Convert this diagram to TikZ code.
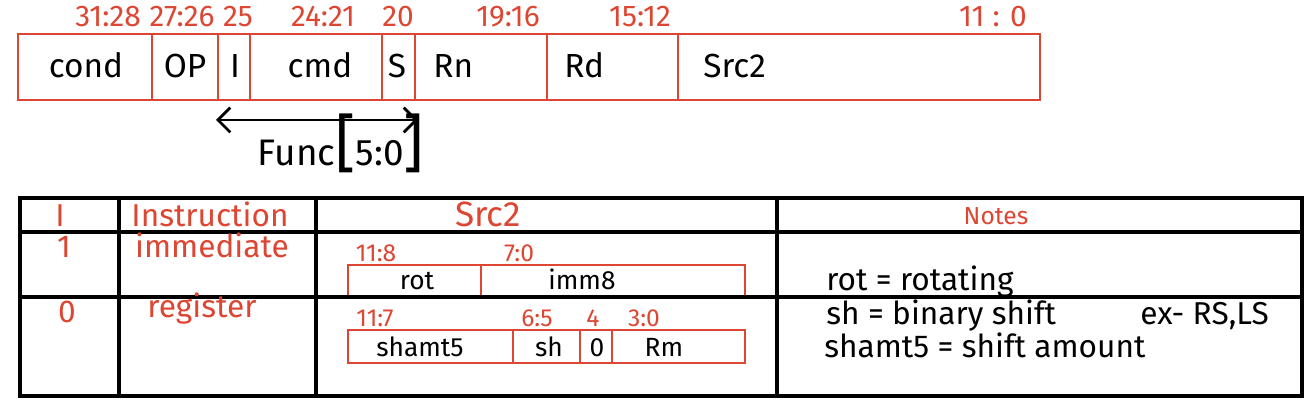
\documentclass[tikz,border=0pt]{standalone}
\usepackage{fontspec}
\setmainfont{Fira Sans}
\usetikzlibrary{arrows.meta}
\definecolor{pen}{RGB}{220,70,50}

\tikzset{
  regline/.style={draw=pen, line width=1.6pt},
  gridline/.style={draw=black, line width=1.8pt},
  bits/.style={text=pen, anchor=base, inner sep=0pt, font=\fontsize{17}{19}\selectfont},
  smallbits/.style={text=pen, anchor=base, inner sep=0pt, font=\fontsize{14}{16}\selectfont},
  field/.style={anchor=base, inner sep=0pt, font=\fontsize{19}{22}\selectfont},
  subfield/.style={anchor=base, inner sep=0pt, font=\fontsize{15}{17}\selectfont},
  head/.style={text=pen, anchor=base, inner sep=0pt, font=\fontsize{18}{20}\selectfont},
  note/.style={anchor=base west, inner sep=0pt, font=\fontsize{18}{20}\selectfont}
}

\begin{document}
\begin{tikzpicture}[x=0.02cm,y=-0.02cm]
\useasboundingbox (0,0) rectangle (1314,404);

% Instruction word
\draw[regline] (18,34) rectangle (1040,100);
\foreach \x in {152,218,250,382,415,547,678}
  \draw[regline] (\x,34) -- (\x,100);

% Bit ranges
\foreach \x/\t/\n in {108/31:28/bcond, 182/27:26/bop, 238/25/bi, 323/24:21/bcmd,
    398/20/bs, 508/19:16/brn, 640/15:12/brd, 993/11 : 0/bsrc}
  \node[bits] (\n) at (\x,27) {\t};

% Fields
\node[field] (cond) at (86,78) {cond};
\node[field] (op) at (185,78) {OP};
\node[field] (ibit) at (235,78) {I};
\node[field] (cmd) at (320,78) {cmd};
\node[field] (sbit) at (397,78) {S};
\node[field, anchor=base west] (rn) at (433,78) {Rn};
\node[field, anchor=base west] (rd) at (564,78) {Rd};
\node[field, anchor=base west] (src) at (703,78) {Src2};

% Funct span
\coordinate (funcl) at (216,120);
\coordinate (funcr) at (418,120);
\draw[{Straight Barb[length=7pt,width=14pt]}-{Straight Barb[length=7pt,width=14pt]}, line width=1.6pt] (funcl) -- (funcr);
\node[field, font=\fontsize{21}{24}\selectfont] (func) at (341,166) {Func{\fontsize{36}{36}\selectfont[}5:0{\fontsize{36}{36}\selectfont]}};

% Src2 encodings
\draw[regline] (348,297) -- (348,265) -- (745,265) -- (745,297);
\draw[regline] (481,265) -- (481,297);
\draw[regline] (348,330) rectangle (745,363);
\foreach \x in {513,580,612}
  \draw[regline] (\x,330) -- (\x,363);

% Table
\draw[gridline] (20,198) rectangle (1302,396);
\draw[gridline] (20,232) -- (1302,232);
\draw[gridline] (20,297) -- (1302,297);
\foreach \x in {119,316,777}
  \draw[gridline] (\x,198) -- (\x,396);

% Header
\node[head] (hi) at (60,227) {I};
\node[head] (hinstr) at (210,227) {Instruction};
\node[head, font=\fontsize{20}{22}\selectfont] (hsrc) at (488,227) {Src2};
\node[head, font=\fontsize{14}{16}\selectfont] (hnotes) at (996,225) {Notes};

% Immediate row
\node[head] (ione) at (64,258) {1};
\node[head] (imm) at (212,258) {immediate};
\node[smallbits] (b118) at (376,262) {11:8};
\node[smallbits] (b70) at (519,262) {7:0};
\node[subfield] (rot) at (417,290) {rot};
\node[subfield] (imm8) at (582,290) {imm8};

% Register row
\node[head] (izero) at (67,323) {0};
\node[head] (reg) at (202,318) {register};
\node[smallbits] (b117) at (375,327) {11:7};
\node[smallbits] (b65) at (537,327) {6:5};
\node[smallbits] (b4) at (593,327) {4};
\node[smallbits] (b30) at (644,327) {3:0};
\node[subfield] (shamt) at (420,357) {shamt5};
\node[subfield] (sh) at (549,357) {sh};
\node[subfield] (zero) at (597,357) {0};
\node[subfield] (rm) at (664,357) {Rm};

% Notes
\node[note] (nrot) at (826,291) {rot = rotating};
\node[note] (nsh) at (826,325) {sh = binary shift};
\node[note] (nex) at (1140,325) {ex- RS,LS};
\node[note] (nshamt) at (824,358) {shamt5 = shift amount};
\end{tikzpicture}
\end{document}
